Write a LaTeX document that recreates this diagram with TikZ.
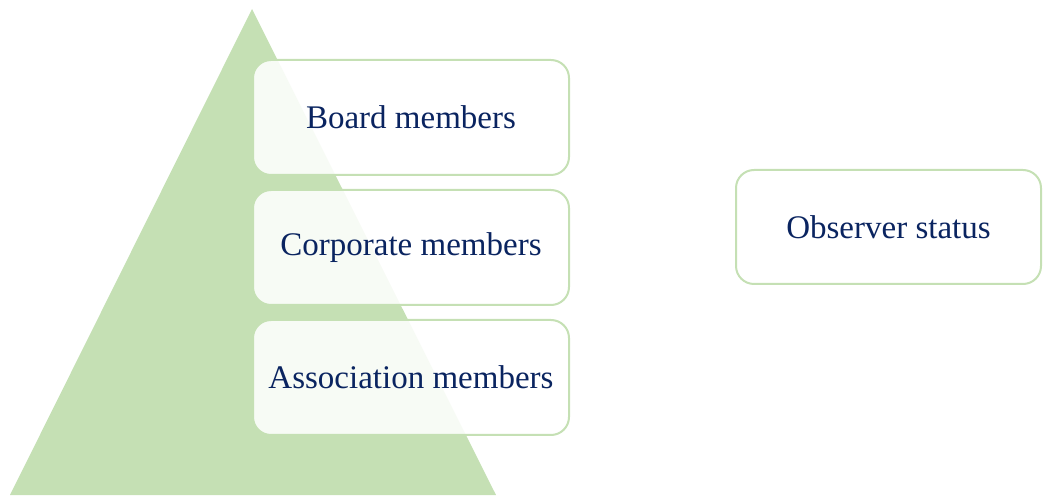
\documentclass[tikz,border=0pt]{standalone}
\usepackage{fontspec}
\setmainfont{Liberation Serif}
\usetikzlibrary{positioning}
\definecolor{leafgreen}{RGB}{197,224,180}
\definecolor{inknavy}{RGB}{10,36,96}

\begin{document}
\begin{tikzpicture}[x=1pt,y=1pt,
    tier/.style={draw=leafgreen,line width=2pt,rounded corners=18pt,fill=white,fill opacity=0.88,text opacity=1,
      text=inknavy,minimum width=316pt,minimum height=115pt,inner sep=0pt,font=\fontsize{33}{36}\selectfont}]
  \useasboundingbox (0,0) rectangle (1043,495);
  % pyramid behind the tiers
  \fill[leafgreen] (10,0) -- (252,486) -- (496,0) -- cycle;
  \node[tier,anchor=north west] (board) at (252,436) {Board members};
  \node[tier,below=13pt of board] (corporate) {Corporate members};
  \node[tier,below=13pt of corporate] (association) {Association members};
  % side box
  \node[tier,minimum width=305pt,minimum height=114pt,anchor=north west] (observer) at (735,326) {Observer status};
\end{tikzpicture}
\end{document}
